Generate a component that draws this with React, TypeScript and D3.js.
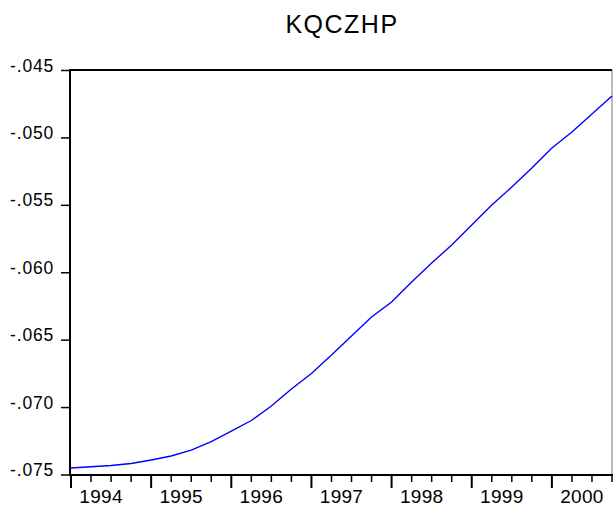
import React from "react";
import * as d3 from "d3";

const title = "KQCZHP";
const years = ["1994", "1995", "1996", "1997", "1998", "1999", "2000"];
const yTicks = [-0.045, -0.05, -0.055, -0.06, -0.065, -0.07, -0.075];
const values = [
  -0.07448, -0.07439, -0.0743, -0.07415,
  -0.07389, -0.07359, -0.07315, -0.07252,
  -0.07174, -0.07096, -0.06988, -0.06862,
  -0.06747, -0.0661, -0.06469, -0.06328,
  -0.06217, -0.06069, -0.05928, -0.05794,
  -0.05646, -0.05498, -0.05364, -0.05223,
  -0.05075, -0.04956, -0.04823, -0.04689,
];

const W = 613;
const H = 512;
const left = 70;
const right = 612;
const top = 70;
const bottom = 475;

export default function App() {
  const x = d3.scaleLinear().domain([0, values.length - 1]).range([71, right]);
  const y = d3.scaleLinear().domain([-0.075, -0.045]).range([bottom, 70.5]);
  const line = d3
    .line<number>()
    .x((_, i) => x(i))
    .y((d) => y(d));
  const fmt = (v: number) => d3.format(".3f")(v).replace("-0.", "-.").replace("−0.", "-.");
  const quarters = d3.range(values.length);
  const font = "'Liberation Sans', Arial, Helvetica, sans-serif";
  return (
    <svg
      width={W}
      height={H}
      style={{ position: "absolute", left: 0, top: 0, background: "#fff" }}
      fontFamily={font}
    >
      <rect x={0} y={0} width={W} height={H} fill="#fff" />
      <text x={(left + right) / 2 + 1} y={33} textAnchor="middle" fontSize={25} letterSpacing={1.5} fill="#000">
        {title}
      </text>
      <line x1={right} y1={top} x2={right} y2={bottom} stroke="#777" strokeWidth={1} />
      <line x1={left} y1={top} x2={right} y2={top} stroke="#000" strokeWidth={1.8} />
      <line x1={left} y1={top - 1} x2={left} y2={bottom + 1} stroke="#000" strokeWidth={2} />
      <line x1={left - 1} y1={bottom} x2={right + 1} y2={bottom} stroke="#000" strokeWidth={2} />
      {yTicks.map((t) => (
        <g key={t}>
          <line x1={61} x2={left} y1={y(t)} y2={y(t)} stroke="#000" strokeWidth={1.5} />
          <text x={54} y={y(t) + 1} textAnchor="end" fontSize={17.5} letterSpacing={0.8} fill="#000">
            {fmt(t)}
          </text>
        </g>
      ))}
      {quarters.map((i) => (
        <line
          key={i}
          x1={x(i)}
          x2={x(i)}
          y1={bottom}
          y2={i % 4 === 0 ? 488 : 482}
          stroke="#000"
          strokeWidth={i % 4 === 0 ? 2 : 1.5}
        />
      ))}
      {years.map((yr, k) => (
        <text
          key={yr}
          x={x(k * 4 + 1.5)}
          y={503}
          textAnchor="middle"
          fontSize={19}
          letterSpacing={0.3}
          fill="#000"
        >
          {yr}
        </text>
      ))}
      <path d={line(values) || ""} fill="none" stroke="#0000ff" strokeWidth={1.4} />
    </svg>
  );
}
